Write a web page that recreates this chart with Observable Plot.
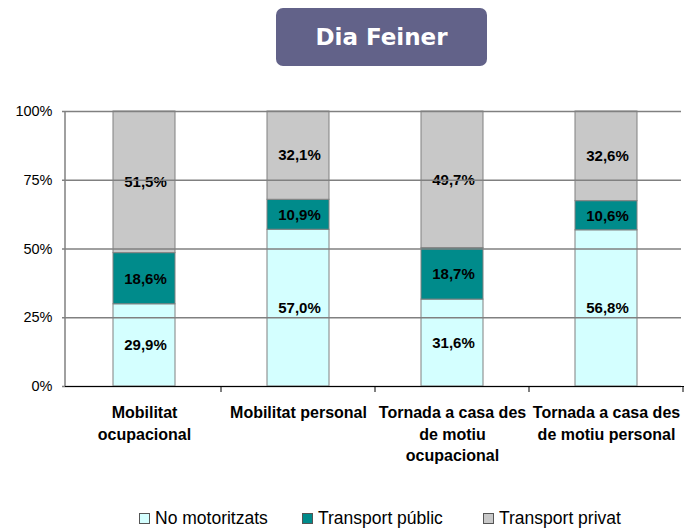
<!DOCTYPE html>
<html>
<head>
<meta charset="utf-8">
<script src="https://cdn.jsdelivr.net/npm/d3@7"></script>
<script src="https://cdn.jsdelivr.net/npm/@observablehq/plot@0.6"></script>
<style>
  html, body { margin: 0; padding: 0; background: #fff; }
  body { width: 684px; height: 531px; position: relative; overflow: hidden; font-family: Arial, "Liberation Sans", Helvetica, sans-serif; }
  #title { position: absolute; left: 276px; top: 8px; width: 211px; height: 58px; background: #626289; border-radius: 7px;
    color: #fff; font-family: "DejaVu Sans", Verdana, sans-serif; font-weight: bold; font-size: 23px;
    display: flex; align-items: center; justify-content: center; }
  #chart { position: absolute; left: 0; top: 0; }
  #chart svg, #chart svg text { font-family: Arial, "Liberation Sans", Helvetica, sans-serif !important; }
  #legend { position: absolute; top: 508px; left: 0; width: 684px; font-size: 17.5px; color: #000; }
  .item { position: absolute; display: flex; align-items: center; white-space: nowrap; }
  .sw { width: 9px; height: 9px; border: 1px solid #555; margin-right: 5px; }
</style>
</head>
<body>
<div id="chart"></div>
<div id="title">Dia Feiner</div>
<div id="legend"></div>
<script>
const categories = ["Mobilitat ocupacional", "Mobilitat personal", "Tornada a casa des de motiu ocupacional", "Tornada a casa des de motiu personal"];
const categoryLabels = ["Mobilitat\nocupacional", "Mobilitat personal", "Tornada a casa des\nde motiu\nocupacional", "Tornada a casa des\nde motiu personal"];
const seriesNames = ["No motoritzats", "Transport públic", "Transport privat"];
const noMotoritzats = [29.9, 57.0, 31.6, 56.8];
const transportPublic = [18.6, 10.9, 18.7, 10.6];
const transportPrivat = [51.5, 32.1, 49.7, 32.6];
const yTicks = [0, 25, 50, 75, 100];
const colors = ["#D4FFFF", "#008B8B", "#C8C8C8"];

const seriesValues = [noMotoritzats, transportPublic, transportPrivat];
const rows = [];
categories.forEach((c, i) => {
  let y0 = 0;
  seriesNames.forEach((s, j) => {
    const v = seriesValues[j][i];
    rows.push({cat: c, series: s, value: v, y1: y0, y2: y0 + v});
    y0 += v;
  });
});
const fmt = v => v.toFixed(1).replace(".", ",") + "%";

const plot = Plot.plot({
  width: 684,
  height: 490,
  marginLeft: 65,
  marginRight: 0,
  marginTop: 111,
  marginBottom: 104,
  style: {fontFamily: "Arial, 'Liberation Sans', sans-serif", background: "transparent"},
  x: {domain: categories, paddingInner: 0.6, paddingOuter: 0.3, axis: null},
  y: {domain: [0, 100], axis: null},
  color: {domain: seriesNames, range: colors},
  marks: [
    Plot.rectY(rows, {x: "cat", y1: "y1", y2: "y2", fill: "series", stroke: "#808080", strokeWidth: 1}),
    Plot.text(rows, {x: "cat", y: d => (d.y1 + d.y2) / 2, text: d => fmt(d.value), fontWeight: "bold", fontSize: 15, fill: "#000", dx: 1}),
    Plot.tickY(yTicks, {y: d => d, frameAnchor: "left", stroke: "#808080", strokeWidth: 1.5, dx: -3}),
    Plot.text(yTicks, {y: d => d, text: d => d + "%", frameAnchor: "left", textAnchor: "end", dx: -13, fontSize: 14.5, fill: "#000"}),
    Plot.ruleY([0], {stroke: "#000", strokeWidth: 1}),
    Plot.text(categories, {x: d => d, y: 0, text: (d, i) => categoryLabels[i], lineAnchor: "top", dy: 16, lineHeight: 1.36,
      fontWeight: "bold", fontSize: 16, fill: "#000"})
  ]
});

const svg = d3.select(plot);
const xs = plot.scale("x");
const ys = plot.scale("y");
document.getElementById("chart").appendChild(plot);

const y0px = ys.apply(0), y100px = ys.apply(100);
svg.append("line").attr("x1", 65).attr("x2", 65).attr("y1", y100px).attr("y2", y0px).attr("stroke", "#808080").attr("stroke-width", 1.5);
const step = xs.step;
categories.forEach((c, i) => {
  const bx = xs.apply(c) + xs.bandwidth / 2 + step / 2;
  svg.append("line").attr("x1", bx).attr("x2", bx).attr("y1", y0px).attr("y2", y0px + 6).attr("stroke", "#000").attr("stroke-width", 1);
});

const legendPos = [139, 302, 483];
const legend = document.getElementById("legend");
seriesNames.forEach((s, i) => {
  const it = document.createElement("div");
  it.className = "item";
  it.style.left = legendPos[i] + "px";
  const sw = document.createElement("div");
  sw.className = "sw";
  sw.style.background = colors[i];
  it.appendChild(sw);
  it.appendChild(document.createTextNode(s));
  legend.appendChild(it);
});
</script>
</body>
</html>
